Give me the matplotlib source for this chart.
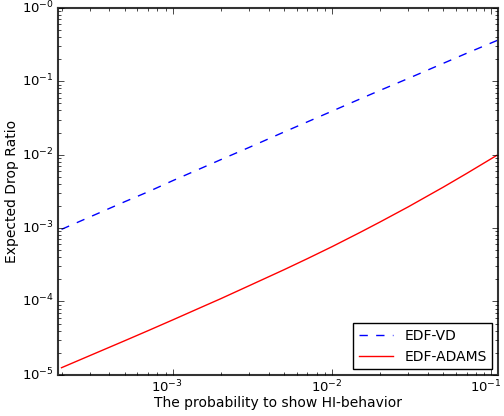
import numpy as np
import matplotlib
matplotlib.use("Agg")
import matplotlib.pyplot as plt
import matplotlib.transforms as mtransforms
from matplotlib.ticker import FixedLocator, FixedFormatter

# probability to show HI-behavior
p = [2e-4, 3e-4, 5e-4, 7e-4, 1e-3, 1.5e-3, 2e-3, 3e-3, 5e-3, 7e-3,
     1e-2, 1.5e-2, 2e-2, 3e-2, 5e-2, 7e-2, 1.1e-1]
# expected drop ratios
edf_vd = [9.6e-4, 1.41e-3, 2.29e-3, 3.12e-3, 4.43e-3, 6.5e-3, 8.55e-3, 1.25e-2,
          2.04e-2, 2.8e-2, 3.92e-2, 5.75e-2, 7.52e-2, 0.109, 0.176, 0.241, 0.364]
edf_adams = [1.25e-5, 1.82e-5, 2.92e-5, 4.0e-5, 5.61e-5, 8.28e-5, 1.09e-4, 1.63e-4,
             2.71e-4, 3.83e-4, 5.58e-4, 8.73e-4, 1.21e-3, 1.94e-3, 3.62e-3, 5.55e-3, 1.0e-2]

plt.style.use("classic")
plt.rcParams["font.size"] = 10
plt.rcParams["mathtext.fontset"] = "dejavusans"
plt.rcParams["mathtext.default"] = "regular"

fig = plt.figure(figsize=(5.04, 4.16), dpi=100, facecolor="white")
ax = fig.add_axes([0.115, 0.099, 0.873, 0.882])

ax.loglog(p, edf_vd, "b--", label="EDF-VD")
ax.loglog(p, edf_adams, "r-", label="EDF-ADAMS")

ax.set_xlim(1.9e-4, 0.11)
ax.set_ylim(1e-5, 1)

ax.yaxis.set_major_locator(FixedLocator([1e-5, 1e-4, 1e-3, 1e-2, 1e-1, 1]))
ax.yaxis.set_major_formatter(FixedFormatter(
    ["$10^{-5}$", "$10^{-4}$", "$10^{-3}$", "$10^{-2}$", "$10^{-1}$", "$10^{-0}$"]))
ax.xaxis.set_major_locator(FixedLocator([1e-3, 1e-2, 1e-1]))
ax.xaxis.set_major_formatter(FixedFormatter(["$10^{-3}$", "$10^{-2}$", "$10^{-1}$"]))

ax.tick_params(labelsize=9.5, pad=3)
for s in ax.spines.values():
    s.set_linewidth(1.5)
    s.set_color("#333333")

# nudge x tick labels a little left, like the original
shift = mtransforms.ScaledTranslation(-4 / 72, 0, fig.dpi_scale_trans)
for lab in ax.get_xticklabels():
    lab.set_transform(lab.get_transform() + shift)

ax.set_xlabel("The probability to show HI-behavior", fontsize=10)
ax.set_ylabel("Expected Drop Ratio", fontsize=10)
ax.xaxis.set_label_coords(0.5, -0.057)
ax.yaxis.set_label_coords(-0.089, 0.5)

leg = ax.legend(loc="lower right", fontsize=10, fancybox=False, numpoints=1,
                handlelength=2.5, borderaxespad=0.4)
leg.get_frame().set_linewidth(1.0)

fig.savefig("out.png", dpi=100, facecolor="white")
